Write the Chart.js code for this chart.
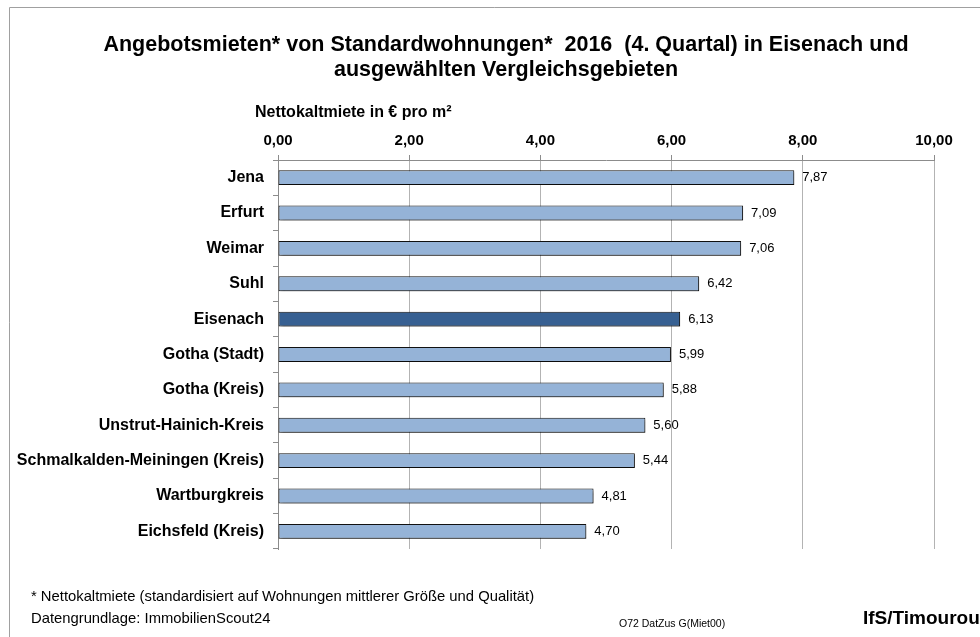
<!DOCTYPE html>
<html><head><meta charset="utf-8">
<script src="https://cdn.jsdelivr.net/npm/chart.js@4/dist/chart.umd.min.js"></script>
<style>html,body{margin:0;padding:0;background:#fff;}canvas{display:block;}</style>
</head><body>
<canvas id="c" width="980" height="637"></canvas>
<script>
const categories = ['Jena','Erfurt','Weimar','Suhl','Eisenach','Gotha (Stadt)','Gotha (Kreis)','Unstrut-Hainich-Kreis','Schmalkalden-Meiningen (Kreis)','Wartburgkreis','Eichsfeld (Kreis)'];
const rents = [7.87,7.09,7.06,6.42,6.13,5.99,5.88,5.60,5.44,4.81,4.70];
const highlighted = 'Eisenach';
const tickValues = [0,2,4,6,8,10];
const tickLabels = ['0,00','2,00','4,00','6,00','8,00','10,00'];
const titleLines = ['Angebotsmieten* von Standardwohnungen*  2016  (4. Quartal) in Eisenach und','ausgewählten Vergleichsgebieten'];
const axisTitle = 'Nettokaltmiete in € pro m²';
const footnotes = ['* Nettokaltmiete (standardisiert auf Wohnungen mittlerer Größe und Qualität)','Datengrundlage: ImmobilienScout24'];
const codeLabel = 'O72 DatZus G(Miet00)';
const sourceLabel = 'IfS/Timourou';

const FONT = "'Liberation Sans', Arial, sans-serif";
Chart.defaults.font.family = FONT;
Chart.defaults.color = '#000';

const framePlugin = {
  id: 'frame',
  beforeDraw(chart) {
    const ctx = chart.ctx;
    ctx.save();
    ctx.fillStyle = '#fff';
    ctx.fillRect(0, 0, chart.width, chart.height);
    ctx.strokeStyle = '#a0a0a0';
    ctx.lineWidth = 1;
    ctx.beginPath();
    ctx.moveTo(9.5, chart.height);
    ctx.lineTo(9.5, 7.5);
    ctx.lineTo(chart.width, 7.5);
    ctx.stroke();
    ctx.restore();
  },
  afterDraw(chart) {
    const ctx = chart.ctx;
    ctx.save();
    ctx.fillStyle = '#000';
    ctx.textBaseline = 'middle';
    ctx.textAlign = 'left';
    ctx.font = 'bold 16px ' + FONT;
    ctx.fillText(axisTitle, 255, 113);
    ctx.font = '14.8px ' + FONT;
    ctx.fillText(footnotes[0], 31, 597);
    ctx.fillText(footnotes[1], 31, 619);
    ctx.font = '10.5px ' + FONT;
    ctx.fillText(codeLabel, 619, 624);
    ctx.font = 'bold 19px ' + FONT;
    ctx.fillText(sourceLabel, 863, 619);
    ctx.restore();
  }
};

const barShadowPlugin = {
  id: 'barShadow',
  beforeDatasetsDraw(chart) {
    const ctx = chart.ctx;
    ctx.save();
    ctx.shadowColor = 'rgba(0,0,0,0.35)';
    ctx.shadowOffsetX = 2;
    ctx.shadowOffsetY = 2;
    ctx.shadowBlur = 2;
  },
  afterDatasetsDraw(chart) {
    const ctx = chart.ctx;
    ctx.restore();
    ctx.save();
    ctx.fillStyle = '#000';
    ctx.font = '13px ' + FONT;
    ctx.textAlign = 'left';
    ctx.textBaseline = 'middle';
    const meta = chart.getDatasetMeta(0);
    meta.data.forEach((bar, i) => {
      ctx.fillText(rents[i].toFixed(2).replace('.', ','), bar.x + 8, bar.y);
    });
    ctx.restore();
  }
};

new Chart(document.getElementById('c'), {
  type: 'bar',
  data: {
    labels: categories,
    datasets: [{
      data: rents,
      backgroundColor: categories.map(c => c === highlighted ? '#376092' : '#95B3D7'),
      borderColor: '#111',
      borderWidth: 1,
      borderSkipped: false,
      categoryPercentage: 1,
      barPercentage: 0.42
    }]
  },
  options: {
    indexAxis: 'y',
    responsive: false,
    animation: false,
    layout: { padding: { left: 78, right: 46, top: 0, bottom: 88 } },
    plugins: {
      legend: { display: false },
      tooltip: { enabled: false },
      title: {
        display: true,
        text: titleLines,
        color: '#000',
        font: { family: FONT, size: 21.5, weight: 'bold', lineHeight: '25px' },
        padding: { top: 33, bottom: 0 }
      }
    },
    scales: {
      x: {
        position: 'top',
        min: 0, max: 10,
        afterBuildTicks: s => { s.ticks = tickValues.map(v => ({ value: v })); },
        afterFit: s => { s.height = 77; },
        ticks: {
          callback: (v, i) => tickLabels[i],
          font: { family: FONT, size: 15, weight: 'bold' },
          color: '#000',
          padding: 5,
          maxRotation: 0
        },
        grid: { color: '#b3b3b3', tickColor: '#8c8c8c', tickLength: 5 },
        border: { color: '#8c8c8c' }
      },
      y: {
        afterFit: s => { s.width = 200; },
        afterUpdate: s => { s._computeLabelArea = () => undefined; },
        ticks: {
          font: { family: FONT, size: 16, weight: 'bold' },
          color: '#000',
          padding: 9
        },
        grid: { drawOnChartArea: false, color: '#8c8c8c', tickLength: 5 },
        border: { color: '#8c8c8c' }
      }
    }
  },
  plugins: [framePlugin, barShadowPlugin]
});
</script>
</body></html>
